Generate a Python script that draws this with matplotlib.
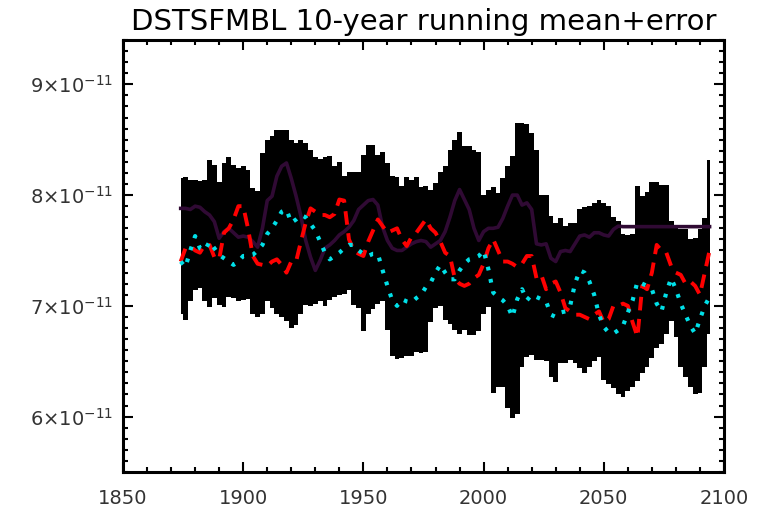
import numpy as np
import matplotlib
matplotlib.use("Agg")
import matplotlib.pyplot as plt
from matplotlib.ticker import MultipleLocator, FixedLocator, FuncFormatter

# ---------------- data (values in units of 1e-11) ----------------
years = np.arange(1874, 2095, 2)

upper = [8.15, 8.16, 8.14, 8.14, 8.13, 8.14, 8.32, 8.27, 8.12, 8.29,
         8.34, 8.27, 8.24, 8.26, 8.23, 8.06, 8.04, 8.38, 8.50, 8.53,
         8.59, 8.59, 8.59, 8.50, 8.47, 8.50, 8.47, 8.41, 8.34, 8.33,
         8.34, 8.35, 8.26, 8.30, 8.17, 8.21, 8.21, 8.21, 8.36, 8.45,
         8.45, 8.36, 8.39, 8.29, 8.17, 8.16, 8.08, 8.16, 8.14, 8.16,
         8.07, 8.08, 8.05, 8.11, 8.21, 8.26, 8.41, 8.50, 8.57, 8.44,
         8.44, 8.41, 8.39, 8.00, 8.05, 8.07, 8.02, 8.15, 8.26, 8.35,
         8.65, 8.65, 8.64, 8.56, 8.41, 8.00, 8.00, 7.81, 7.75, 7.79,
         7.72, 7.75, 7.75, 7.87, 7.89, 7.90, 7.93, 7.96, 7.93, 7.90,
         7.80, 7.77, 7.65, 7.64, 7.65, 8.08, 7.99, 8.03, 8.12, 8.12,
         8.09, 8.09, 7.77, 7.70, 7.69, 7.69, 7.60, 7.61, 7.69, 7.79, 8.32]

lower = [6.93, 6.87, 7.04, 7.14, 7.16, 7.04, 6.99, 7.07, 7.01, 6.99,
         7.08, 7.07, 7.04, 7.05, 7.06, 6.93, 6.90, 6.93, 7.04, 6.98,
         6.93, 6.90, 6.86, 6.80, 6.83, 6.93, 7.01, 7.00, 7.02, 7.04,
         7.00, 7.05, 7.08, 7.10, 7.11, 7.14, 7.01, 6.98, 6.77, 6.93,
         6.97, 7.02, 7.04, 6.78, 6.55, 6.52, 6.53, 6.55, 6.55, 6.58,
         6.57, 6.58, 6.85, 6.98, 7.00, 6.87, 6.84, 6.78, 6.75, 6.78,
         6.74, 6.74, 6.77, 6.93, 6.99, 6.21, 6.27, 6.27, 6.08, 5.99,
         6.02, 6.45, 6.54, 6.56, 6.51, 6.51, 6.50, 6.36, 6.31, 6.48,
         6.48, 6.51, 6.48, 6.44, 6.39, 6.45, 6.50, 6.54, 6.33, 6.29,
         6.26, 6.20, 6.18, 6.23, 6.27, 6.32, 6.39, 6.45, 6.53, 6.62,
         6.66, 6.75, 6.86, 6.72, 6.45, 6.36, 6.27, 6.20, 6.21, 6.45, 6.75]

mean_purple = [7.88, 7.88, 7.87, 7.90, 7.89, 7.85, 7.82, 7.76, 7.61, 7.67,
               7.70, 7.66, 7.62, 7.63, 7.62, 7.58, 7.53, 7.70, 7.95, 7.99,
               8.17, 8.26, 8.29, 8.15, 7.99, 7.81, 7.59, 7.44, 7.32, 7.41,
               7.52, 7.55, 7.59, 7.64, 7.67, 7.71, 7.77, 7.87, 7.91, 7.95,
               7.96, 7.91, 7.71, 7.59, 7.52, 7.50, 7.50, 7.53, 7.56, 7.58,
               7.59, 7.58, 7.53, 7.56, 7.59, 7.67, 7.80, 7.95, 8.05, 7.96,
               7.87, 7.70, 7.59, 7.67, 7.70, 7.70, 7.71, 7.79, 7.90, 8.00,
               8.00, 7.91, 7.93, 7.87, 7.56, 7.55, 7.56, 7.43, 7.40, 7.49,
               7.50, 7.49, 7.56, 7.63, 7.64, 7.62, 7.66, 7.66, 7.64, 7.63,
               7.69, 7.72, 7.715, 7.715, 7.715, 7.715, 7.715, 7.715, 7.715, 7.715,
               7.715, 7.715, 7.715, 7.715, 7.715, 7.715, 7.715, 7.715, 7.715, 7.715, 7.715]

series_red = [7.40, 7.52, 7.54, 7.50, 7.48, 7.55, 7.55, 7.44, 7.42, 7.66,
              7.70, 7.78, 7.90, 7.90, 7.70, 7.45, 7.38, 7.37, 7.36, 7.40,
              7.42, 7.37, 7.30, 7.40, 7.40, 7.58, 7.75, 7.88, 7.85, 7.82,
              7.82, 7.80, 7.83, 7.96, 7.95, 7.60, 7.50, 7.47, 7.45, 7.58,
              7.68, 7.78, 7.72, 7.66, 7.68, 7.70, 7.60, 7.54, 7.62, 7.66,
              7.72, 7.78, 7.70, 7.66, 7.58, 7.48, 7.45, 7.25, 7.20, 7.18,
              7.20, 7.25, 7.28, 7.38, 7.52, 7.60, 7.50, 7.40, 7.40, 7.38,
              7.35, 7.38, 7.45, 7.45, 7.25, 7.28, 7.15, 7.20, 7.22, 7.12,
              6.98, 6.95, 6.92, 6.92, 6.90, 6.88, 6.92, 6.95, 6.85, 6.88,
              7.00, 7.00, 7.02, 7.00, 6.85, 6.72, 7.18, 7.15, 7.30, 7.55,
              7.50, 7.48, 7.36, 7.30, 7.28, 7.20, 7.22, 7.18, 7.10, 7.30, 7.50]

series_cyan = [7.40, 7.35, 7.50, 7.63, 7.52, 7.50, 7.58, 7.52, 7.46, 7.43,
               7.40, 7.37, 7.40, 7.45, 7.45, 7.46, 7.50, 7.55, 7.65, 7.70,
               7.77, 7.85, 7.87, 7.75, 7.78, 7.82, 7.80, 7.74, 7.68, 7.58,
               7.48, 7.42, 7.45, 7.48, 7.52, 7.55, 7.55, 7.50, 7.47, 7.45,
               7.47, 7.47, 7.32, 7.18, 7.05, 7.00, 7.06, 7.04, 7.03, 7.07,
               7.10, 7.17, 7.21, 7.30, 7.37, 7.30, 7.24, 7.24, 7.32, 7.38,
               7.42, 7.43, 7.45, 7.50, 7.33, 7.12, 7.08, 7.05, 7.00, 6.90,
               7.06, 7.15, 7.05, 7.10, 7.08, 7.06, 7.04, 6.92, 6.90, 6.94,
               6.95, 7.00, 7.20, 7.32, 7.30, 7.22, 7.10, 6.92, 6.81, 6.76,
               6.75, 6.78, 6.82, 6.94, 7.05, 7.22, 7.20, 7.18, 7.15, 7.02,
               6.95, 7.12, 7.25, 7.15, 7.02, 6.92, 6.82, 6.75, 6.88, 7.00, 7.08]

title = "DSTSFMBL 10-year running mean+error"
x_ticks = [1850, 1900, 1950, 2000, 2050, 2100]
y_ticks = [6, 7, 8, 9]
scale = 1e-11

# ---------------- plot ----------------
plt.rcParams['font.family'] = ['DejaVu Sans']
plt.rcParams['mathtext.fontset'] = 'dejavusans'

W, H = 766, 514
fig = plt.figure(figsize=(W / 100, H / 100), dpi=100)
L, R, T, B = 123, 724, 40, 472
ax = fig.add_axes([L / W, 1 - B / H, (R - L) / W, (B - T) / H])

s = lambda a: np.asarray(a) * scale

ax.fill_between(years, s(lower), s(upper), step='mid', color='black', lw=0, zorder=1)
ax.plot(years, s(mean_purple), color='#300a34', lw=2.6, zorder=2)
ax.plot(years, s(series_red), color='#ff0000', lw=2.8, dashes=(3.5, 2.2),
        dash_capstyle='butt', zorder=3)
ax.plot(years, s(series_cyan), color='#00e0e8', lw=3.0, dashes=(0.9, 2.1),
        dash_capstyle='butt', zorder=4)

ax.set_xlim(1850, 2100)
ax.set_ylim(5.5 * scale, 9.4 * scale)

ax.xaxis.set_major_locator(FixedLocator(x_ticks))
ax.xaxis.set_minor_locator(MultipleLocator(10))
ax.yaxis.set_major_locator(FixedLocator([v * scale for v in y_ticks]))
ax.yaxis.set_minor_locator(MultipleLocator(0.1 * scale))
ax.yaxis.set_major_formatter(FuncFormatter(
    lambda v, p: r'$%d{\times}10^{-11}$' % int(round(v / scale))))

ax.tick_params(which='both', direction='in', top=True, right=True, width=1.5,
               colors='black', labelcolor='#333333')
ax.tick_params(which='major', length=7.5)
ax.tick_params(which='minor', length=3.8)
ax.tick_params(axis='x', labelsize=14, pad=12)
ax.tick_params(axis='y', labelsize=14, pad=7)
for sp in ax.spines.values():
    sp.set_linewidth(2.2)

ax.set_title(title, fontsize=21, pad=7, color='black')

fig.savefig("out.png", dpi=100)
